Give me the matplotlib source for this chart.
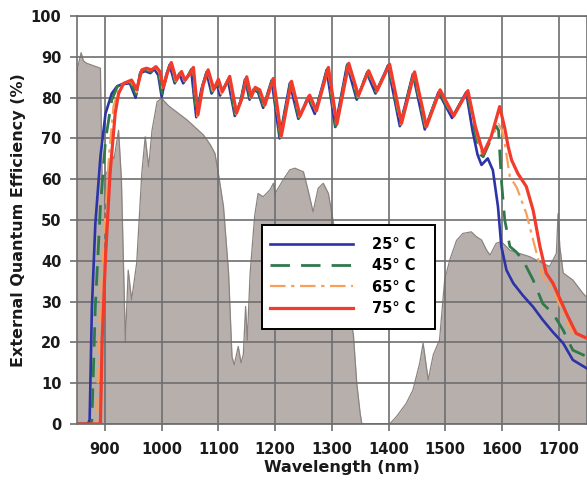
#import required libraries
import numpy as np
import matplotlib
matplotlib.use('Agg')
import matplotlib.pyplot as plt
from matplotlib.patches import Rectangle

plt.rcParams['font.family'] = ['DejaVu Sans']
plt.rcParams['font.weight'] = 'bold'

#solar spectrum (scaled), drawn as grey background
sun_wl = [850, 858, 862, 868, 880, 892, 895, 905, 912, 916, 924, 929, 936, 941, 947, 956, 965, 971, 977, 983,
          992, 1000, 1012, 1045, 1074, 1086, 1094, 1100, 1109, 1118, 1124, 1128, 1135, 1140, 1144, 1148, 1151,
          1156, 1164, 1170, 1179, 1191, 1197, 1200, 1214, 1226, 1235, 1250, 1258, 1267, 1276, 1285, 1294, 1302,
          1320, 1338, 1344, 1350, 1353, 1402, 1414, 1431, 1443, 1455, 1461, 1470, 1479, 1490, 1499, 1508, 1520,
          1531, 1546, 1555, 1564, 1573, 1579, 1590, 1599, 1614, 1631, 1649, 1666, 1684, 1696, 1699, 1702, 1708,
          1725, 1743, 1750]
sun_val = [86.3, 91, 89, 88.4, 87.8, 87.2, 60, 62, 66, 65, 72, 60, 20, 37.7, 30.4, 39.5, 61.5, 70.4, 63, 72,
           79, 79.8, 78, 74.5, 70.8, 68.4, 66.3, 61.4, 53.3, 37, 16.5, 14.5, 19, 15, 17, 28.8, 20.5,
           37, 51, 56.5, 55.7, 57.4, 59, 56.5, 59.8, 62.3, 62.7, 61.8, 57.4, 52, 57.8, 59, 56.5, 50,
           35, 22, 10, 2.6, 0, 0, 1.8, 5, 8.3, 14.9, 19.8, 10.8, 17, 20.6, 35.3, 40.2, 45,
           46.7, 47.1, 45.9, 45.1, 42.6, 41.4, 44.3, 44.7, 42.6, 41.8, 41, 39.8, 38.6, 41.8, 51.6, 43.5, 37,
           35.3, 32, 31]

#external quantum efficiency at 25 C
wl_25 = [850, 870, 873, 877, 883, 892, 901, 912, 921, 930, 944, 954, 962, 971, 980, 987, 994, 1000, 1008, 1014,
         1023, 1031, 1038, 1045, 1052, 1061, 1070, 1079, 1088, 1097, 1103, 1117, 1129, 1139, 1147, 1155, 1162,
         1170, 1179, 1194, 1208, 1226, 1241, 1258, 1270, 1291, 1306, 1327, 1344, 1362, 1377, 1399, 1420, 1443,
         1464, 1488, 1512, 1537, 1548, 1557, 1564, 1575, 1584, 1593, 1599, 1608, 1620, 1637, 1655, 1672, 1690,
         1708, 1725, 1750]
qe_25 = [0, 0, 1, 28.7, 49, 65.5, 76.1, 81, 82.7, 83.3, 83.5, 80, 86, 86.5, 86, 87, 85.5, 80.2, 85.5, 88,
         83.5, 85.8, 83.5, 85, 86.8, 75.2, 82, 86.2, 81, 83.3, 80.5, 84.2, 75.5, 79, 84.5, 79.5, 82,
         81.3, 77.5, 84.2, 70, 83.5, 74.8, 80, 76, 86.8, 72.8, 88, 79.5, 86, 81, 87.8, 73, 85.8,
         72.2, 81.3, 75, 81.3, 72, 66, 63.5, 65.1, 62.2, 53.3, 43.5, 37.7, 34.5, 31.5, 28.7, 25.5, 22.5,
         19.8, 15.7, 13.6]

#external quantum efficiency at 45 C
wl_45 = [850, 875, 877, 883, 892, 901, 912, 922, 931, 945, 955, 963, 972, 981, 988, 995, 1001, 1009, 1015,
         1024, 1032, 1039, 1046, 1053, 1062, 1071, 1080, 1089, 1098, 1104, 1118, 1130, 1140, 1148, 1156, 1163,
         1171, 1180, 1195, 1209, 1227, 1242, 1259, 1271, 1292, 1307, 1328, 1345, 1363, 1378, 1400, 1421, 1444,
         1465, 1489, 1513, 1538, 1550, 1562, 1567, 1578, 1590, 1594, 1599, 1605, 1614, 1625, 1637, 1655, 1672,
         1690, 1708, 1725, 1750]
qe_45 = [0, 0, 1, 28.7, 53.3, 69.6, 79.4, 82.8, 83.4, 83.7, 80.8, 86.3, 86.8, 86.3, 87.2, 85.8, 81, 85.7, 88.2,
         83.8, 86, 83.8, 85.2, 87, 75.3, 82.3, 86.4, 81.4, 83.6, 80.8, 84.5, 75.7, 79.3, 84.8, 79.8, 82.2,
         81.5, 77.8, 84.4, 70.2, 83.7, 75, 80.3, 76.3, 87, 73, 88.2, 79.9, 86.3, 81.3, 88, 73.3, 86,
         72.5, 81.6, 75.2, 81.5, 73, 66, 65.5, 69, 73, 72, 59.8, 50, 43.5, 42.2, 40.2, 35.3, 29.5,
         27.1, 23, 18.1, 16.5]

#external quantum efficiency at 65 C
wl_65 = [850, 884, 886, 889, 898, 907, 915, 925, 932, 946, 956, 964, 973, 982, 989, 996, 1002, 1009, 1016,
         1025, 1034, 1040, 1047, 1055, 1063, 1072, 1081, 1090, 1099, 1105, 1119, 1131, 1141, 1149, 1157, 1164,
         1172, 1181, 1196, 1210, 1228, 1243, 1260, 1272, 1293, 1308, 1329, 1346, 1364, 1379, 1401, 1422, 1445,
         1466, 1490, 1514, 1540, 1552, 1565, 1580, 1594, 1600, 1605, 1614, 1626, 1643, 1658, 1672, 1690, 1708,
         1725, 1750]
qe_65 = [0, 0, 1, 20.6, 45, 65.5, 77.8, 82.5, 83.4, 84, 81.3, 86.5, 87, 86.5, 87.4, 86.1, 81.8, 85.8, 88.4,
         84, 86.2, 84, 85.3, 87.2, 75.4, 82.6, 86.6, 81.7, 83.8, 80.9, 84.9, 75.9, 79.6, 85, 80, 82.4,
         81.7, 78, 84.6, 70.4, 83.9, 75.3, 80.5, 76.6, 87.2, 73.3, 88.3, 80.2, 86.5, 81.5, 88.1, 73.5, 86.2,
         72.7, 81.8, 75.4, 81.6, 73, 66, 70, 73.5, 72, 68.8, 60.6, 58, 51.6, 43.5, 36.1, 32.8, 27.1,
         22.2, 20.5]

#external quantum efficiency at 75 C
wl_75 = [850, 892, 895, 901, 909, 918, 924, 933, 947, 956, 965, 973, 982, 990, 997, 1003, 1010, 1017, 1026,
         1035, 1041, 1048, 1056, 1064, 1073, 1082, 1092, 1100, 1107, 1120, 1132, 1142, 1150, 1158, 1165, 1173,
         1182, 1197, 1211, 1229, 1244, 1261, 1273, 1294, 1309, 1330, 1347, 1365, 1380, 1402, 1423, 1446, 1467,
         1491, 1515, 1540, 1553, 1567, 1581, 1596, 1605, 1611, 1617, 1628, 1643, 1655, 1667, 1678, 1690, 1714,
         1731, 1750]
qe_75 = [0, 0, 20.6, 41, 61.4, 76.1, 81, 83.5, 84.3, 82, 86.8, 87.2, 86.8, 87.6, 86.4, 82.5, 86, 88.6, 84.3,
         86.4, 84.3, 85.5, 87.4, 75.8, 83, 86.8, 82, 84.5, 81.5, 85.2, 76.2, 80, 85.1, 80.2, 82.5, 81.9,
         78.2, 84.7, 70.6, 84, 75.5, 80.6, 76.8, 87.4, 73.5, 88.4, 80.5, 86.6, 81.7, 88.2, 73.7, 86.3, 72.9,
         81.9, 75.5, 81.7, 73, 66.3, 70.4, 77.8, 72.5, 68, 64.7, 61.4, 58.2, 52.4, 43.5, 37, 34.5, 27,
         22.2, 21]

labels = ['25° C', '45° C', '65° C', '75° C']

#figure at 587x483 px
fig = plt.figure(figsize=(5.87, 4.83), dpi=100)
ax = fig.add_axes([76.6 / 587, 59 / 483, 510.4 / 587, 408 / 483])

#grey spectrum
ax.fill_between(sun_wl, sun_val, 0, color='#b7afac', zorder=1, linewidth=0)
ax.plot(sun_wl, sun_val, color='#8a8380', linewidth=0.9, zorder=1.2)

#efficiency curves
ax.plot(wl_25, qe_25, color='#2b33a6', linewidth=1.9, zorder=3, label=labels[0])
ax.plot(wl_45, qe_45, color='#2f7a4a', linewidth=2.0, linestyle=(0, (7, 4)), zorder=3.1, label=labels[1])
ax.plot(wl_65, qe_65, color='#f6a05c', linewidth=1.6, linestyle=(0, (7, 2.5, 1.5, 2.5)), zorder=3.2, label=labels[2])
ax.plot(wl_75, qe_75, color='#f23b2a', linewidth=2.3, zorder=3.3, label=labels[3])

#axes styling
ax.set_xlim(850, 1750)
ax.set_ylim(0, 100)
ax.set_xticks(np.arange(900, 1701, 100))
ax.set_yticks(np.arange(0, 101, 10))
ax.set_axisbelow(False)
ax.grid(True, color='#6e6e6e', linewidth=1.2)
for s in ax.spines.values():
    s.set_color('#6e6e6e')
    s.set_linewidth(1.2)
ax.tick_params(axis='both', colors='#6e6e6e', labelcolor='#1a1a1a', labelsize=10.5, length=5, width=1.2, pad=6)
ax.tick_params(axis='x', pad=8)
for lab in ax.get_xticklabels() + ax.get_yticklabels():
    lab.set_fontweight('bold')
ax.set_xlabel('Wavelength (nm)', fontsize=11.5, fontweight='bold', color='#1a1a1a', labelpad=2, x=0.52)
ax.set_ylabel('External Quantum Efficiency (%)', fontsize=11.5, fontweight='bold', color='#1a1a1a', labelpad=3)

#legend: frame drawn separately so the padding matches the original box
frame = Rectangle((262 / 587, 1 - 329 / 483), 173 / 587, 104 / 483, transform=fig.transFigure,
                  facecolor='white', edgecolor='black', linewidth=1.4, zorder=4, clip_on=False)
ax.add_patch(frame)
leg = ax.legend(loc='upper left', bbox_to_anchor=(270 / 587, 1 - 237 / 483), bbox_transform=fig.transFigure,
                handlelength=5.7, handletextpad=1.3, labelspacing=0.43, borderpad=0,
                borderaxespad=0, frameon=False, prop={'weight': 'bold', 'size': 10.5})
leg.set_zorder(5)

fig.savefig('out.png', dpi=100)
